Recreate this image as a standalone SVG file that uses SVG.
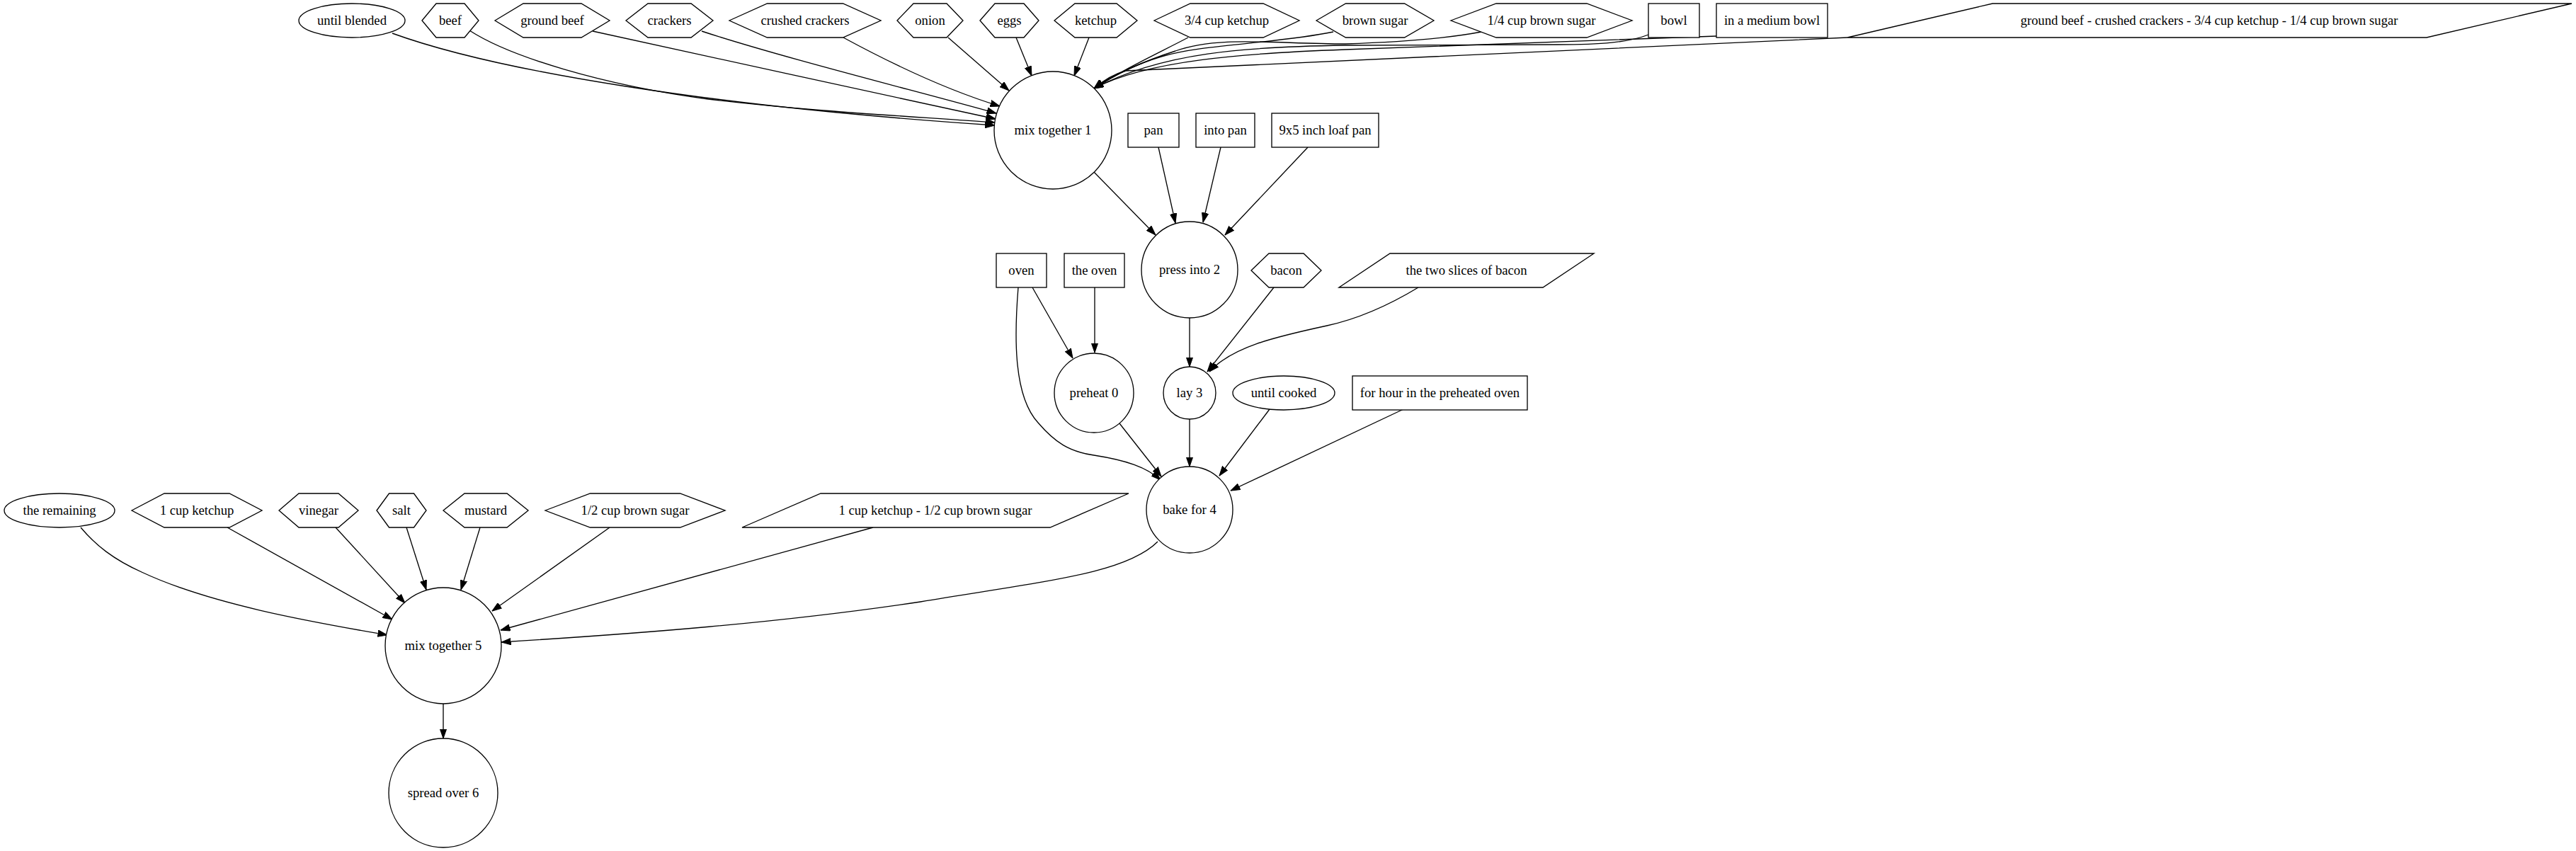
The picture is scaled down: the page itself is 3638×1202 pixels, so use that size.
<svg xmlns="http://www.w3.org/2000/svg" width="3638" height="1202" viewBox="0 0 3638 1202">
<style>
.n{fill:#fff;stroke:#000;stroke-width:1.33}
.t{font-family:"Liberation Serif","Times New Roman",serif;font-size:18.67px;text-anchor:middle;fill:#000}
.e{fill:none;stroke:#000;stroke-width:1.33;marker-end:url(#ah)}
</style>
<defs>
<marker id="ah" markerUnits="userSpaceOnUse" markerWidth="14" markerHeight="10" viewBox="0 0 14 10" refX="13.5" refY="5" orient="auto">
<path d="M0,0.3 L13.5,5 L0,9.7 z" fill="#000" stroke="#000" stroke-width="1"/>
</marker>
</defs>
<rect width="3638" height="1202" fill="#fff"/>
<g id="edges">
<path class="e" d="M554,47 C700,100 1000,150 1405,177"/>
<path class="e" d="M663,43 C720,80 850,120 1000,140 C1150,158 1300,165 1405,173"/>
<path class="e" d="M837,44 C1000,80 1250,134 1406,168"/>
<path class="e" d="M991,44 C1100,80 1300,130 1407,160"/>
<path class="e" d="M1191,53 C1250,85 1330,125 1412,150"/>
<path class="e" d="M1339,53 L1425,128"/>
<path class="e" d="M1435,53 L1457,107"/>
<path class="e" d="M1538,53 L1517,107"/>
<path class="e" d="M1678,53 C1630,78 1590,96 1545,125"/>
<path class="e" d="M1883,45 C1800,62 1700,62 1640,80 C1600,92 1570,108 1545,125"/>
<path class="e" d="M2092,45 C2040,55 1960,60 1900,62 C1800,62 1720,50 1660,72 C1610,88 1575,105 1545,125"/>
<path class="e" d="M2328,49 C2300,60 2260,63 2200,63 L1900,64 C1760,66 1640,74 1545,125"/>
<path class="e" d="M2424,51 L1900,70 C1760,75 1620,85 1545,125"/>
<path class="e" d="M2609,53 L1590,100 C1575,104 1558,114 1545,125"/>
<path class="e" d="M1545,243 L1632,332"/>
<path class="e" d="M1636,208 L1660,315"/>
<path class="e" d="M1724,208 L1699,314"/>
<path class="e" d="M1847,208 L1730,332"/>
<path class="e" d="M1458,406 L1515,506"/>
<path class="e" d="M1546,406 L1546,498"/>
<path class="e" d="M1438,406 C1432,480 1432,560 1466,597 C1490,625 1510,638 1545,643 C1590,650 1620,660 1639,678"/>
<path class="e" d="M1680,449 L1680,518"/>
<path class="e" d="M1799,406 L1705,525"/>
<path class="e" d="M2003,406 C1960,432 1920,450 1874,460 C1800,476 1740,490 1708,525"/>
<path class="e" d="M1581,598 L1640,673"/>
<path class="e" d="M1680,592 L1680,659"/>
<path class="e" d="M1793,578 L1722,672"/>
<path class="e" d="M1982,578 L1738,693"/>
<path class="e" d="M1635,765 C1590,810 1480,820 1300,850 C1100,880 900,895 708,907"/>
<path class="e" d="M1233,745 L707,890"/>
<path class="e" d="M861,745 L695,863"/>
<path class="e" d="M678,745 L651,833"/>
<path class="e" d="M574,745 L602,833"/>
<path class="e" d="M474,745 L572,852"/>
<path class="e" d="M321,745 L554,875"/>
<path class="e" d="M114,745 C135,770 160,790 200,808 C300,855 450,880 547,897"/>
<path class="e" d="M626,994 L626,1043"/>
</g>
<g id="until_blended"><ellipse class="n" cx="497" cy="29" rx="75" ry="24"/><text class="t" x="497" y="35">until blended</text></g>
<g id="beef"><polygon class="n" points="596,29 616,5 656,5 676,29 656,53 616,53"/><text class="t" x="636" y="35">beef</text></g>
<g id="ground_beef"><polygon class="n" points="699,29 739,5 821,5 861,29 821,53 739,53"/><text class="t" x="780" y="35">ground beef</text></g>
<g id="crackers"><polygon class="n" points="884,29 915,5 976,5 1007,29 976,53 915,53"/><text class="t" x="945.5" y="35">crackers</text></g>
<g id="crushed_crackers"><polygon class="n" points="1030,29 1083.5,5 1190.5,5 1244,29 1190.5,53 1083.5,53"/><text class="t" x="1137" y="35">crushed crackers</text></g>
<g id="onion"><polygon class="n" points="1267,29 1290,5 1337,5 1360,29 1337,53 1290,53"/><text class="t" x="1313.5" y="35">onion</text></g>
<g id="eggs"><polygon class="n" points="1384,29 1405,5 1446,5 1467,29 1446,53 1405,53"/><text class="t" x="1425.5" y="35">eggs</text></g>
<g id="ketchup"><polygon class="n" points="1489,29 1518,5 1577,5 1606,29 1577,53 1518,53"/><text class="t" x="1547.5" y="35">ketchup</text></g>
<g id="q34_cup_ketchup"><polygon class="n" points="1630,29 1681,5 1784,5 1835,29 1784,53 1681,53"/><text class="t" x="1732.5" y="35">3/4 cup ketchup</text></g>
<g id="brown_sugar"><polygon class="n" points="1859,29 1900.5,5 1983.5,5 2025,29 1983.5,53 1900.5,53"/><text class="t" x="1942" y="35">brown sugar</text></g>
<g id="q14_cup_brown_sugar"><polygon class="n" points="2049,29 2113,5 2241,5 2305,29 2241,53 2113,53"/><text class="t" x="2177" y="35">1/4 cup brown sugar</text></g>
<g id="bowl"><rect class="n" x="2328" y="5" width="72" height="48"/><text class="t" x="2364" y="35">bowl</text></g>
<g id="in_a_medium_bowl"><rect class="n" x="2424" y="5" width="157" height="48"/><text class="t" x="2502.5" y="35">in a medium bowl</text></g>
<g id="mix1_inputs"><polygon class="n" points="2609,53 2814,5 3632,5 3427,53"/><text class="t" x="3120" y="35">ground beef - crushed crackers - 3/4 cup ketchup - 1/4 cup brown sugar</text></g>
<g id="mix_together_1"><circle class="n" cx="1487" cy="184" r="83"/><text class="t" x="1487" y="190">mix together 1</text></g>
<g id="pan"><rect class="n" x="1593" y="160" width="72" height="48"/><text class="t" x="1629" y="190">pan</text></g>
<g id="into_pan"><rect class="n" x="1689" y="160" width="83" height="48"/><text class="t" x="1730.5" y="190">into pan</text></g>
<g id="loaf_pan"><rect class="n" x="1796" y="160" width="151" height="48"/><text class="t" x="1871.5" y="190">9x5 inch loaf pan</text></g>
<g id="oven"><rect class="n" x="1407" y="358" width="71" height="48"/><text class="t" x="1442.5" y="388">oven</text></g>
<g id="the_oven"><rect class="n" x="1503" y="358" width="85" height="48"/><text class="t" x="1545.5" y="388">the oven</text></g>
<g id="press_into_2"><circle class="n" cx="1680" cy="381" r="68"/><text class="t" x="1680" y="387">press into 2</text></g>
<g id="bacon"><polygon class="n" points="1767,382 1792,358 1841,358 1866,382 1841,406 1792,406"/><text class="t" x="1816.5" y="388">bacon</text></g>
<g id="two_slices"><polygon class="n" points="1891,406 1963,358 2251,358 2179,406"/><text class="t" x="2071" y="388">the two slices of bacon</text></g>
<g id="preheat_0"><circle class="n" cx="1545" cy="555" r="56"/><text class="t" x="1545" y="561">preheat 0</text></g>
<g id="lay_3"><circle class="n" cx="1680" cy="555" r="37"/><text class="t" x="1680" y="561">lay 3</text></g>
<g id="until_cooked"><ellipse class="n" cx="1813" cy="555" rx="72" ry="24"/><text class="t" x="1813" y="561">until cooked</text></g>
<g id="for_hour"><rect class="n" x="1910" y="531" width="247" height="48"/><text class="t" x="2033.5" y="561">for hour in the preheated oven</text></g>
<g id="bake_for_4"><circle class="n" cx="1680" cy="720" r="61"/><text class="t" x="1680" y="726">bake for 4</text></g>
<g id="the_remaining"><ellipse class="n" cx="84" cy="721" rx="78" ry="24"/><text class="t" x="84" y="727">the remaining</text></g>
<g id="one_cup_ketchup"><polygon class="n" points="186,721 232,697 324,697 370,721 324,745 232,745"/><text class="t" x="278" y="727">1 cup ketchup</text></g>
<g id="vinegar"><polygon class="n" points="394,721 422,697 478,697 506,721 478,745 422,745"/><text class="t" x="450" y="727">vinegar</text></g>
<g id="salt"><polygon class="n" points="532,721 549.5,697 584.5,697 602,721 584.5,745 549.5,745"/><text class="t" x="567" y="727">salt</text></g>
<g id="mustard"><polygon class="n" points="626,721 656,697 716,697 746,721 716,745 656,745"/><text class="t" x="686" y="727">mustard</text></g>
<g id="half_cup_brown_sugar"><polygon class="n" points="770,721 833.5,697 960.5,697 1024,721 960.5,745 833.5,745"/><text class="t" x="897" y="727">1/2 cup brown sugar</text></g>
<g id="mix5_inputs"><polygon class="n" points="1048,745 1159,697 1594,697 1483,745"/><text class="t" x="1321" y="727">1 cup ketchup - 1/2 cup brown sugar</text></g>
<g id="mix_together_5"><circle class="n" cx="626" cy="912" r="82"/><text class="t" x="626" y="918">mix together 5</text></g>
<g id="spread_over_6"><circle class="n" cx="626" cy="1120" r="77"/><text class="t" x="626" y="1126">spread over 6</text></g>
</svg>
